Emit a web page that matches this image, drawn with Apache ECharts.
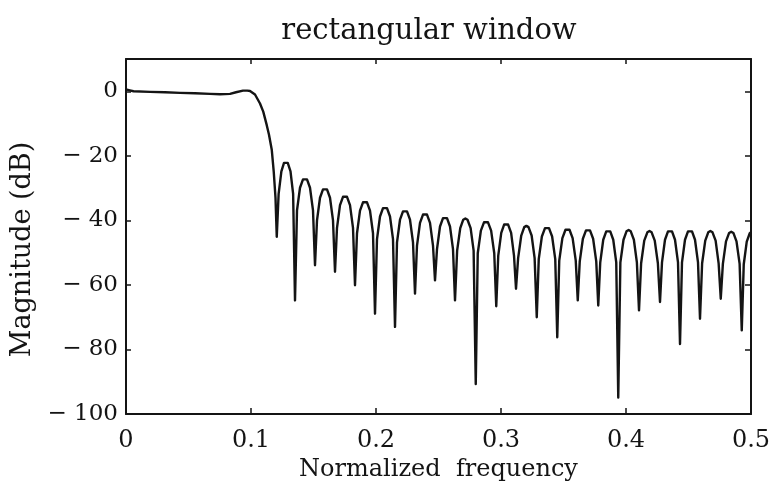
<!DOCTYPE html>
<html>
<head>
<meta charset="utf-8">
<script src="https://cdn.jsdelivr.net/npm/echarts@6/dist/echarts.min.js"></script>
<style>
html,body{margin:0;padding:0;background:#fff;}
#chart{width:774px;height:497px;}
</style>
</head>
<body>
<div id="chart"></div>
<script>
// ---- data ----
var titleText = 'rectangular window';
var xName = 'Normalized  frequency';
var yName = 'Magnitude (dB)';
var xTicks = [0, 0.1, 0.2, 0.3, 0.4, 0.5];
var yTicks = [-100, -80, -60, -40, -20, 0];

// passband: [normalized frequency, dB]
var passband = [
  [0.0000, 0.6], [0.0030, 0.3], [0.0060, 0.0], [0.0192, -0.2], [0.0312, -0.3],
  [0.0432, -0.5], [0.0552, -0.6], [0.0672, -0.8], [0.0752, -0.9], [0.0832, -0.8],
  [0.0880, -0.3], [0.0936, 0.2], [0.0970, 0.2]
];
// transition band down to the first null
var transition = [
  [0.0992, 0.1], [0.1032, -1.0], [0.1072, -3.8], [0.1098, -6.3], [0.1126, -10.5],
  [0.1144, -13.5], [0.1166, -18.1], [0.1182, -25.0], [0.1196, -33.0]
];
// stopband side lobes (null, rising flank, peak, falling flank ...)
var stopband = [
  [0.1206,-45.1],[0.1221,-31.8],[0.1243,-24.8],[0.1264,-22.2],[0.1279,-21.8],[0.1294,-22.2],[0.1316,-24.8],[0.1337,-31.8],
  [0.1352,-64.8],[0.1368,-36.9],[0.1392,-29.9],[0.1416,-27.3],[0.1432,-26.9],[0.1448,-27.3],[0.1472,-29.9],[0.1496,-36.9],
  [0.1512,-53.9],[0.1528,-40.0],[0.1552,-33.0],[0.1576,-30.4],[0.1592,-30.0],[0.1608,-30.4],[0.1632,-33.0],[0.1656,-40.0],
  [0.1672,-55.9],[0.1688,-42.3],[0.1712,-35.3],[0.1736,-32.7],[0.1752,-32.3],[0.1768,-32.7],[0.1792,-35.3],[0.1816,-42.3],
  [0.1832,-60.1],[0.1848,-44.0],[0.1872,-37.0],[0.1896,-34.4],[0.1912,-34.0],[0.1928,-34.4],[0.1952,-37.0],[0.1976,-44.0],
  [0.1992,-68.9],[0.2008,-45.8],[0.2032,-38.8],[0.2056,-36.2],[0.2072,-35.8],[0.2088,-36.2],[0.2112,-38.8],[0.2136,-45.8],
  [0.2152,-73.0],[0.2168,-46.8],[0.2192,-39.8],[0.2216,-37.2],[0.2232,-36.8],[0.2248,-37.2],[0.2272,-39.8],[0.2296,-46.8],
  [0.2312,-62.7],[0.2328,-47.8],[0.2352,-40.8],[0.2376,-38.2],[0.2392,-37.8],[0.2408,-38.2],[0.2432,-40.8],[0.2456,-47.8],
  [0.2472,-58.6],[0.2488,-48.9],[0.2512,-41.9],[0.2536,-39.3],[0.2552,-38.9],[0.2568,-39.3],[0.2592,-41.9],[0.2616,-48.9],
  [0.2632,-64.8],[0.2649,-49.4],[0.2674,-42.4],[0.2698,-39.8],[0.2715,-39.4],[0.2732,-39.8],[0.2757,-42.4],[0.2781,-49.4],
  [0.2798,-90.7],[0.2814,-50.2],[0.2839,-43.2],[0.2864,-40.6],[0.2880,-40.2],[0.2896,-40.6],[0.2921,-43.2],[0.2946,-50.2],
  [0.2962,-66.6],[0.2978,-50.9],[0.3002,-43.9],[0.3025,-41.3],[0.3041,-40.9],[0.3057,-41.3],[0.3081,-43.9],[0.3104,-50.9],
  [0.3120,-61.2],[0.3137,-51.7],[0.3162,-44.7],[0.3186,-42.1],[0.3203,-41.7],[0.3220,-42.1],[0.3245,-44.7],[0.3269,-51.7],
  [0.3286,-70.0],[0.3302,-52.0],[0.3327,-45.0],[0.3352,-42.4],[0.3368,-42.0],[0.3384,-42.4],[0.3409,-45.0],[0.3434,-52.0],
  [0.3450,-76.2],[0.3466,-52.5],[0.3491,-45.5],[0.3516,-42.9],[0.3532,-42.5],[0.3548,-42.9],[0.3573,-45.5],[0.3598,-52.5],
  [0.3614,-64.8],[0.3630,-52.7],[0.3655,-45.7],[0.3680,-43.1],[0.3696,-42.7],[0.3712,-43.1],[0.3737,-45.7],[0.3762,-52.7],
  [0.3778,-66.4],[0.3794,-53.0],[0.3818,-46.0],[0.3842,-43.4],[0.3858,-43.0],[0.3874,-43.4],[0.3898,-46.0],[0.3922,-53.0],
  [0.3938,-94.9],[0.3955,-53.0],[0.3980,-46.0],[0.4004,-43.4],[0.4021,-43.0],[0.4038,-43.4],[0.4063,-46.0],[0.4087,-53.0],
  [0.4104,-67.9],[0.4121,-53.3],[0.4146,-46.3],[0.4171,-43.7],[0.4188,-43.3],[0.4205,-43.7],[0.4230,-46.3],[0.4255,-53.3],
  [0.4272,-65.3],[0.4288,-53.0],[0.4312,-46.0],[0.4336,-43.4],[0.4352,-43.0],[0.4368,-43.4],[0.4392,-46.0],[0.4416,-53.0],
  [0.4432,-78.3],[0.4448,-53.0],[0.4472,-46.0],[0.4496,-43.4],[0.4512,-43.0],[0.4528,-43.4],[0.4552,-46.0],[0.4576,-53.0],
  [0.4592,-70.5],[0.4609,-53.3],[0.4634,-46.3],[0.4658,-43.7],[0.4675,-43.3],[0.4692,-43.7],[0.4717,-46.3],[0.4741,-53.3],
  [0.4758,-64.3],[0.4775,-53.5],[0.4800,-46.5],[0.4825,-43.9],[0.4842,-43.5],[0.4859,-43.9],[0.4884,-46.5],[0.4909,-53.5],
  [0.4926,-74.1],[0.4942,-53.6],[0.4966,-46.6],[0.4990,-44.0],[0.5000,-43.7]
];

// ---- chart ----
var curve = passband.concat(transition, stopband);
var serif = 'DejaVu Serif';
var ink = '#141414';

function yFmt(v) {
  if (v === 0) return '0';
  if (v < 0) return '\u2212 ' + (-v);
  return String(v);
}
function xFmt(v) {
  if (v === 0) return '0';
  return v.toFixed(1);
}

var chart = echarts.init(document.getElementById('chart'), null, {renderer: 'canvas'});
chart.setOption({
  backgroundColor: '#ffffff',
  animation: false,
  title: {
    text: titleText,
    left: 424,
    top: 12,
    textAlign: 'center',
    textStyle: {fontFamily: serif, fontSize: 29, fontWeight: 'normal', color: ink}
  },
  grid: {left: 126, right: 23, top: 59, bottom: 83, containLabel: false},
  xAxis: [{
    type: 'value',
    min: xTicks[0],
    max: xTicks[xTicks.length - 1],
    interval: 0.1,
    name: xName,
    nameLocation: 'middle',
    nameGap: 41,
    nameTextStyle: {fontFamily: serif, fontSize: 24, color: ink},
    axisLine: {show: true, onZero: false, lineStyle: {color: ink, width: 2}},
    axisTick: {show: true, inside: true, length: 6, lineStyle: {color: ink, width: 1.5}},
    axisLabel: {show: true, margin: 15, formatter: xFmt, fontFamily: serif, fontSize: 24, color: ink},
    splitLine: {show: false}
  }, {
    type: 'value',
    position: 'top',
    min: xTicks[0],
    max: xTicks[xTicks.length - 1],
    interval: 0.1,
    axisLine: {show: true, onZero: false, lineStyle: {color: ink, width: 2}},
    axisTick: {show: true, inside: true, length: 5, lineStyle: {color: ink, width: 1.5}},
    axisLabel: {show: false},
    splitLine: {show: false}
  }],
  yAxis: [{
    type: 'value',
    min: yTicks[0],
    max: 10,
    interval: 20,
    name: yName,
    nameLocation: 'middle',
    nameGap: 84,
    nameTextStyle: {fontFamily: serif, fontSize: 27, color: ink, padding: [0, 26, 0, 0]},
    axisLine: {show: true, onZero: false, lineStyle: {color: ink, width: 2}},
    axisTick: {show: true, inside: true, length: 5, lineStyle: {color: ink, width: 1.5}},
    axisLabel: {show: true, margin: 8, showMaxLabel: false, formatter: yFmt, fontFamily: serif, fontSize: 23, color: ink},
    splitLine: {show: false}
  }, {
    type: 'value',
    position: 'right',
    min: yTicks[0],
    max: 10,
    interval: 20,
    axisLine: {show: true, onZero: false, lineStyle: {color: ink, width: 2}},
    axisTick: {show: true, inside: true, length: 6, lineStyle: {color: ink, width: 1.5}},
    axisLabel: {show: false},
    splitLine: {show: false}
  }],
  series: [{
    type: 'line',
    xAxisIndex: 0,
    yAxisIndex: 0,
    data: curve,
    showSymbol: false,
    symbol: 'none',
    smooth: false,
    clip: true,
    lineStyle: {color: ink, width: 2.4, join: 'round'}
  }]
});
</script>
</body>
</html>
